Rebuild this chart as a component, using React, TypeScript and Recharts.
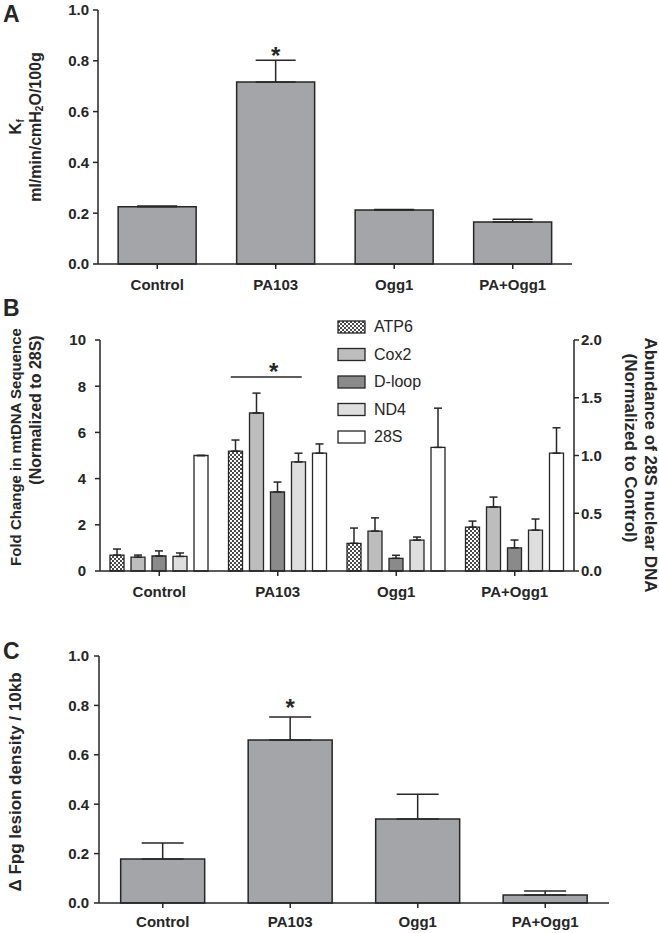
import React from 'react';
import { BarChart, Bar, XAxis, YAxis, ErrorBar, ReferenceDot } from 'recharts';

// groups shared by all three panels
const groups = ['Control', 'PA103', 'Ogg1', 'PA+Ogg1'];

// A: filtration coefficient Kf
const kfMean = [0.225, 0.717, 0.213, 0.165];
const kfSem = [0.003, 0.085, 0.002, 0.011];

// B: mtDNA fold change (left axis) and 28S abundance (right axis)
const atp6Mean = [0.69, 5.19, 1.2, 1.9];
const atp6Sem = [0.26, 0.48, 0.66, 0.26];
const cox2Mean = [0.6, 6.84, 1.73, 2.77];
const cox2Sem = [0.09, 0.86, 0.57, 0.43];
const dloopMean = [0.65, 3.42, 0.55, 1.0];
const dloopSem = [0.22, 0.43, 0.13, 0.34];
const nd4Mean = [0.63, 4.72, 1.34, 1.77];
const nd4Sem = [0.15, 0.38, 0.13, 0.48];
const s28Mean = [1.0, 1.02, 1.07, 1.02];
const s28Sem = [0, 0.08, 0.34, 0.22];
const sigLineB = 8.4;

// C: Fpg lesion density
const fpgMean = [0.178, 0.66, 0.34, 0.032];
const fpgSem = [0.065, 0.093, 0.1, 0.017];

const unitTicks = [0, 0.2, 0.4, 0.6, 0.8, 1.0];
const foldTicks = [0, 2, 4, 6, 8, 10];
const abundanceTicks = [0, 0.5, 1.0, 1.5, 2.0];

const FONT = '"Liberation Sans", Arial, sans-serif';
const INK = '#262626';
const BAR_GREY = '#a4a5a8';

const axisStyle = { stroke: INK, strokeWidth: 1.5 };
const tickStyle = { fill: INK, fontSize: 15, fontWeight: 'bold', fontFamily: FONT };
const oneDecimal = (v: number) => v.toFixed(1);

const kfData = groups.map((g, i) => ({ group: g, kf: kfMean[i], kfErr: [0, kfSem[i]] }));
const fpgData = groups.map((g, i) => ({ group: g, fpg: fpgMean[i], fpgErr: [0, fpgSem[i]] }));
const mtData = groups.map((g, i) => ({
  group: g,
  ATP6: atp6Mean[i], ATP6Err: [0, atp6Sem[i]],
  Cox2: cox2Mean[i], Cox2Err: [0, cox2Sem[i]],
  'D-loop': dloopMean[i], 'D-loopErr': [0, dloopSem[i]],
  ND4: nd4Mean[i], ND4Err: [0, nd4Sem[i]],
  '28S': s28Mean[i], '28SErr': [0, s28Sem[i]],
}));

const mtSeries = [
  { key: 'ATP6', fill: 'url(#atp6Checker)', axis: 'left' },
  { key: 'Cox2', fill: '#bdbdbd', axis: 'left' },
  { key: 'D-loop', fill: '#8a8a8a', axis: 'left' },
  { key: 'ND4', fill: '#dedede', axis: 'left' },
  { key: '28S', fill: '#ffffff', axis: 'right' },
];

const Star = ({ x, y }: { x: number; y: number }) => (
  <text x={x} y={y} textAnchor="middle" fontSize={24} fontWeight="bold" fontFamily={FONT} fill={INK}>*</text>
);

const Title = ({ x, y, rotate = 0, size = 15, anchor = 'middle', children }: any) => (
  <text
    x={x}
    y={y}
    transform={rotate ? `rotate(${rotate} ${x} ${y})` : undefined}
    textAnchor={anchor}
    dominantBaseline={rotate ? 'central' : 'auto'}
    fontSize={size}
    fontWeight="bold"
    fontFamily={FONT}
    fill={INK}
  >
    {children}
  </text>
);

const MtLegend = () => (
  <svg width={130} height={150} style={{ position: 'absolute', left: 336, top: 314 }}>
    {mtSeries.map((s, i) => (
      <g key={s.key} transform={`translate(2, ${7 + i * 27.5})`}>
        <rect x={0} y={0} width={27} height={12} fill={s.fill} stroke={INK} strokeWidth={1.3} />
        <text x={36} y={11} fontSize={16} fontFamily={FONT} fill={INK}>{s.key}</text>
      </g>
    ))}
  </svg>
);

export default function App() {
  return (
    <div style={{ position: 'absolute', left: 0, top: 0, width: 659, height: 933, background: '#fff' }}>
      <svg width={0} height={0} style={{ position: 'absolute' }}>
        <defs>
          <pattern id="atp6Checker" width={4} height={4} patternUnits="userSpaceOnUse">
            <rect width={4} height={4} fill="#ffffff" />
            <rect width={2} height={2} fill="#4a4a4a" />
            <rect x={2} y={2} width={2} height={2} fill="#4a4a4a" />
          </pattern>
        </defs>
      </svg>

      {/* Panel A */}
      <div style={{ position: 'absolute', left: 0, top: 0 }}>
        <BarChart width={659} height={300} data={kfData} margin={{ top: 10, right: 87, bottom: 6, left: 0 }} barCategoryGap="17%">
          <XAxis dataKey="group" height={30} interval={0} axisLine={axisStyle} tickLine={axisStyle} tickSize={5} tickMargin={10} tick={tickStyle} />
          <YAxis width={98} domain={[0, 1]} ticks={unitTicks} tickFormatter={oneDecimal} axisLine={axisStyle} tickLine={axisStyle} tickSize={5} tickMargin={4} tick={tickStyle} />
          <Bar dataKey="kf" fill={BAR_GREY} stroke={INK} strokeWidth={1.5} isAnimationActive={false}>
            <ErrorBar dataKey="kfErr" width={20} stroke={INK} strokeWidth={1.5} direction="y" />
          </Bar>
          <ReferenceDot x="PA103" y={kfMean[1] + kfSem[1]} r={0} shape={(p: any) => <Star x={p.cx} y={p.cy + 4} />} />
        </BarChart>
      </div>

      {/* Panel B */}
      <div style={{ position: 'absolute', left: 0, top: 300 }}>
        <BarChart width={659} height={310} data={mtData} margin={{ top: 40, right: 0, bottom: 9, left: 0 }} barSize={14} barGap={7}>
          <XAxis dataKey="group" height={30} interval={0} axisLine={axisStyle} tickLine={axisStyle} tickSize={5} tickMargin={10} tick={tickStyle} />
          <YAxis yAxisId="left" width={100} domain={[0, 10]} ticks={foldTicks} axisLine={axisStyle} tickLine={axisStyle} tickSize={5} tickMargin={9} tick={tickStyle} />
          <YAxis yAxisId="right" orientation="right" width={85} domain={[0, 2]} ticks={abundanceTicks} tickFormatter={oneDecimal} axisLine={axisStyle} tickLine={axisStyle} tickSize={5} tickMargin={2} tick={tickStyle} />
          {mtSeries.map((s) => (
            <Bar key={s.key} yAxisId={s.axis} dataKey={s.key} fill={s.fill} stroke={INK} strokeWidth={1.3} isAnimationActive={false}>
              <ErrorBar dataKey={`${s.key}Err`} width={4} stroke={INK} strokeWidth={1.5} direction="y" />
            </Bar>
          ))}
          <ReferenceDot
            yAxisId="left"
            x="PA103"
            y={sigLineB}
            r={0}
            shape={(p: any) => (
              <g>
                <line x1={p.cx - 47} x2={p.cx + 24} y1={p.cy} y2={p.cy} stroke={INK} strokeWidth={1.5} />
                <Star x={p.cx - 4} y={p.cy + 3} />
              </g>
            )}
          />
        </BarChart>
      </div>
      <MtLegend />

      {/* Panel C */}
      <div style={{ position: 'absolute', left: 0, top: 610 }}>
        <BarChart width={659} height={323} data={fpgData} margin={{ top: 46, right: 50, bottom: 0, left: 0 }} barCategoryGap="17%">
          <XAxis dataKey="group" height={30} interval={0} axisLine={axisStyle} tickLine={axisStyle} tickSize={5} tickMargin={8} tick={tickStyle} />
          <YAxis width={99} domain={[0, 1]} ticks={unitTicks} tickFormatter={oneDecimal} axisLine={axisStyle} tickLine={axisStyle} tickSize={5} tickMargin={5} tick={tickStyle} />
          <Bar dataKey="fpg" fill={BAR_GREY} stroke={INK} strokeWidth={1.5} isAnimationActive={false}>
            <ErrorBar dataKey="fpgErr" width={21} stroke={INK} strokeWidth={1.5} direction="y" />
          </Bar>
          <ReferenceDot x="PA103" y={fpgMean[1] + fpgSem[1]} r={0} shape={(p: any) => <Star x={p.cx} y={p.cy - 1} />} />
        </BarChart>
      </div>

      {/* panel letters and axis titles */}
      <svg width={659} height={933} style={{ position: 'absolute', left: 0, top: 0, pointerEvents: 'none' }}>
        <Title x={3} y={22} size={23} anchor="start">A</Title>
        <Title x={3} y={316} size={23} anchor="start">B</Title>
        <Title x={3} y={659} size={23} anchor="start">C</Title>

        <Title x={15} y={127} rotate={-90} size={17}>
          K<tspan fontSize={10} dy={5}>f</tspan>
        </Title>
        <Title x={35} y={127} rotate={-90} size={16}>
          ml/min/cmH<tspan fontSize={10} dy={4}>2</tspan><tspan dy={-4}>O/100g</tspan>
        </Title>

        <Title x={15} y={447} rotate={-90} size={15}>Fold  Change in mtDNA Sequence</Title>
        <Title x={35} y={410} rotate={-90} size={16}>(Normalized to 28S)</Title>
        <Title x={650} y={465} rotate={90} size={17}>Abundance of 28S nuclear DNA</Title>
        <Title x={630} y={448} rotate={90} size={17}>(Normalized to Control)</Title>

        <Title x={15} y={782} rotate={-90} size={17}>Δ Fpg lesion density / 10kb</Title>
      </svg>
    </div>
  );
}
